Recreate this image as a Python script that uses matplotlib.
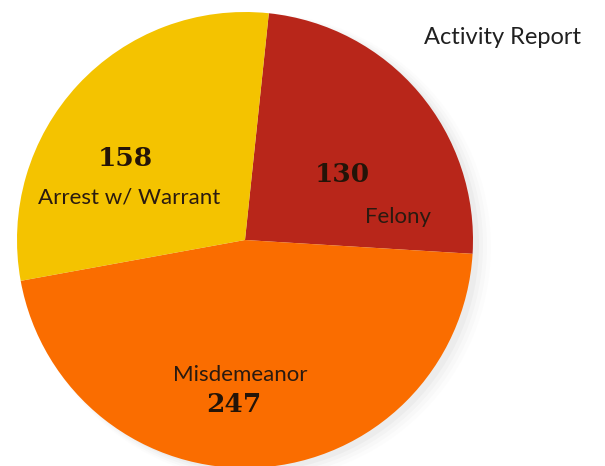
import matplotlib
matplotlib.use("Agg")
import matplotlib.pyplot as plt
from matplotlib.patches import Circle

# data
categories = ["Felony", "Misdemeanor", "Arrest w/ Warrant"]
counts = [130, 247, 158]
colors = ["#b8261a", "#fa6d00", "#f4c300"]

W, H = 605, 466
fig = plt.figure(figsize=(W / 100, H / 100), dpi=100)
ax = fig.add_axes([0, 0, 1, 1])

cx, cy, r = 245, H - 240, 228

# soft shadow to the lower right
for i, a in enumerate([0.05, 0.04, 0.03, 0.02]):
    ax.add_patch(Circle((cx + 6 + 2 * i, cy - 4 - i), r + 2 * i,
                        color="#808080", alpha=a, lw=0, zorder=0))

ax.pie(counts, colors=colors, startangle=84, counterclock=False,
       center=(cx, cy), radius=r, frame=True,
       wedgeprops=dict(linewidth=0, zorder=2))
ax.set_xlim(0, W)
ax.set_ylim(0, H)
ax.set_aspect("equal")
ax.axis("off")

num_font = dict(family="DejaVu Serif", fontweight="bold", fontsize=19, color="#241408")
lab_font = dict(family="Lato", fontsize=16, color="#2a1a10")


def at(x, y, s, **kw):
    ax.text(x, H - y, s, ha="center", va="center", zorder=5, **kw)


at(125, 158, str(counts[2]), **num_font)
at(129, 197, categories[2], **lab_font)
at(342, 175, str(counts[0]), **num_font)
at(398, 217, categories[0], **lab_font)
at(240, 375, categories[1], **lab_font)
at(234, 405, str(counts[1]), **num_font)
at(502, 38, "Activity Report", family="Lato", fontsize=17, color="#202020")

fig.savefig("out.png", dpi=100)
